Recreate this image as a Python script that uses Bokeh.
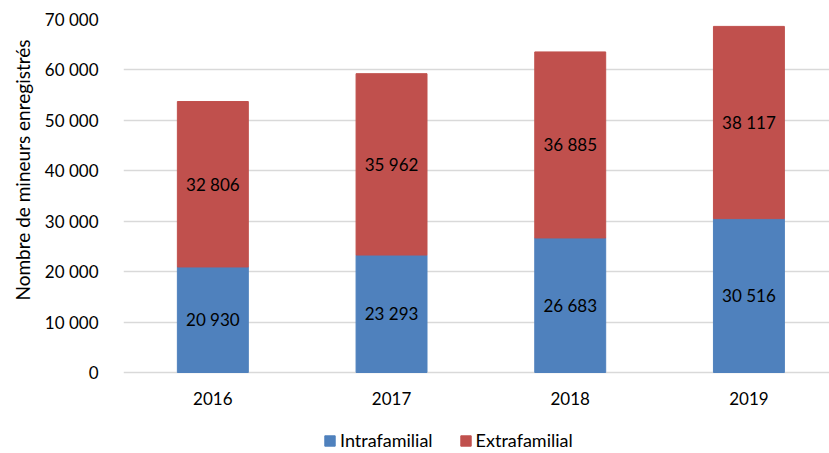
from bokeh.plotting import figure
from bokeh.models import (ColumnDataSource, Range1d, Legend, LegendItem,
                          FixedTicker, CustomJSTickFormatter, Title)
from bokeh.core.properties import value
from bokeh.embed import file_html
from bokeh.resources import INLINE

years = ["2016", "2017", "2018", "2019"]
intra = [20930, 23293, 26683, 30516]
extra = [32806, 35962, 36885, 38117]
y_ticks = [0, 10000, 20000, 30000, 40000, 50000, 60000, 70000]

BLUE = "#4F81BD"
RED = "#C0504D"
FONT = "Lato"
FS = "17px"


def fmt(v):
    return f"{v:,}".replace(",", " ")


xs = list(range(len(years)))
src = ColumnDataSource(dict(
    x=xs,
    intra=intra,
    total=[a + b for a, b in zip(intra, extra)],
    intra_mid=[a / 2 for a in intra],
    extra_mid=[a + b / 2 for a, b in zip(intra, extra)],
    intra_lbl=[fmt(v) for v in intra],
    extra_lbl=[fmt(v) for v in extra],
))
cat_src = ColumnDataSource(dict(x=xs, y=[-5156] * len(xs), t=years))

p = figure(width=829, height=453, output_backend="svg", toolbar_location=None,
           x_range=Range1d(-0.5, 3.451), y_range=Range1d(-16062, 70000),
           min_border_left=123, min_border_top=19, min_border_right=0,
           min_border_bottom=0)
p.outline_line_color = None
p.background_fill_color = "white"
p.xaxis.visible = False

r1 = p.vbar(x="x", width=0.397, bottom=0, top="intra", fill_color=BLUE,
            line_color=BLUE, source=src)
r2 = p.vbar(x="x", width=0.397, bottom="intra", top="total", fill_color=RED,
            line_color=RED, source=src)

p.text(x="x", y="intra_mid", text="intra_lbl", source=src,
       text_align="center", text_baseline="middle",
       text_font=value(FONT), text_font_size=FS, text_color="black")
p.text(x="x", y="extra_mid", text="extra_lbl", source=src,
       text_align="center", text_baseline="middle",
       text_font=value(FONT), text_font_size=FS, text_color="black")
p.text(x="x", y="y", text="t", source=cat_src,
       text_align="center", text_baseline="middle",
       text_font=value(FONT), text_font_size=FS, text_color="black")

p.xgrid.grid_line_color = None
p.ygrid.grid_line_color = "#D9D9D9"
p.ygrid.grid_line_width = 1.3
p.ygrid.ticker = FixedTicker(ticks=y_ticks)
p.ygrid.level = "underlay"

p.yaxis.ticker = FixedTicker(ticks=y_ticks)
p.yaxis.formatter = CustomJSTickFormatter(
    code="return tick.toString().replace(/\\B(?=(\\d{3})+(?!\\d))/g, ' ');")
p.yaxis.axis_line_color = None
p.yaxis.major_tick_line_color = None
p.yaxis.minor_tick_line_color = None
p.yaxis.major_label_standoff = 19
p.yaxis.major_label_text_font = FONT
p.yaxis.major_label_text_font_size = FS
p.yaxis.major_label_text_color = "black"

ylab = Title(text="Nombre de mineurs enregistrés", align="left", offset=153,
             text_font=FONT, text_font_size="19px", text_font_style="normal",
             text_color="black", standoff=16)
p.add_layout(ylab, "left")

legend = Legend(items=[LegendItem(label="Intrafamilial", renderers=[r1]),
                       LegendItem(label="Extrafamilial", renderers=[r2])],
                orientation="horizontal", location=(200, 2),
                glyph_width=13, glyph_height=13, label_standoff=4, spacing=26,
                padding=0, margin=0, border_line_color=None,
                background_fill_alpha=0,
                label_text_font=FONT, label_text_font_size="18px",
                label_text_color="black")
p.add_layout(legend, "center")

open("out.html", "w").write(file_html(p, INLINE))
